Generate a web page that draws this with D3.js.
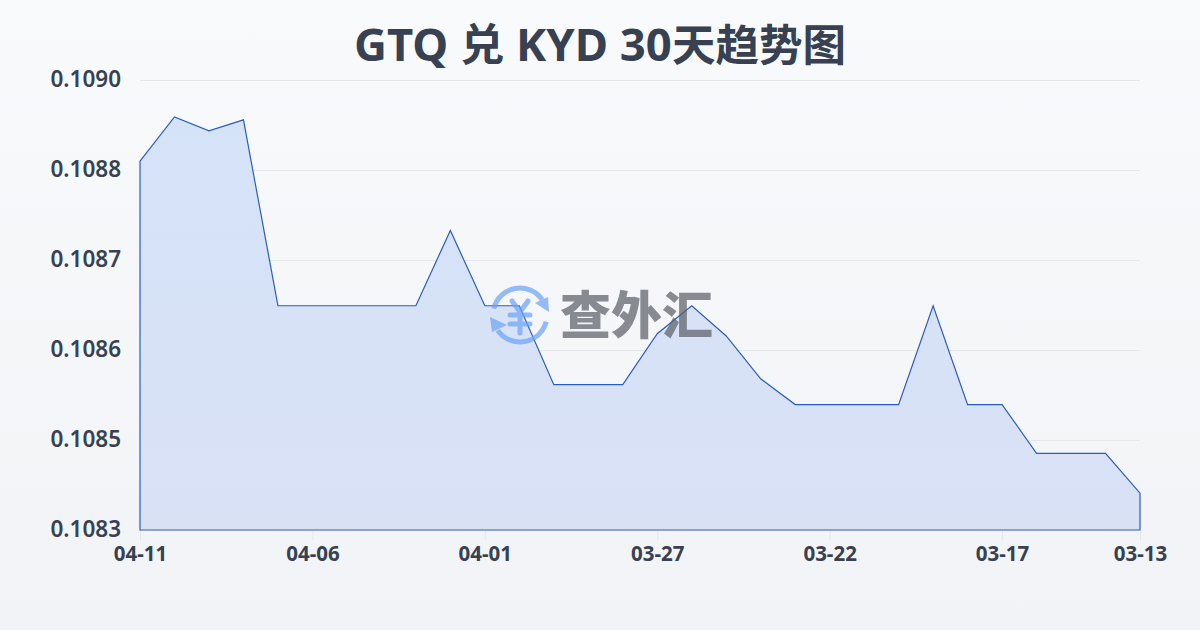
<!DOCTYPE html>
<html><head><meta charset="utf-8">
<script src="https://cdn.jsdelivr.net/npm/d3@7/dist/d3.min.js"></script>
<style>
html,body{margin:0;padding:0;width:1200px;height:630px;overflow:hidden}
text{font-family:"Noto Sans","Noto Sans CJK SC",sans-serif}
</style></head><body><svg id="c" width="1200" height="630"></svg>
<script>
const titleRuns = [["GTQ ",45.5],["兑",44],[" KYD 30",45.5],["天趋势图",43.5]];
const dates = ["04-11","04-10","04-09","04-08","04-07","04-06","04-05","04-04","04-03","04-02","04-01","03-31","03-30","03-29","03-28","03-27","03-26","03-25","03-24","03-23","03-22","03-21","03-20","03-19","03-18","03-17","03-16","03-15","03-14","03-13"];
const rates = [0.108840,0.108900,0.108881,0.108896,0.108644,0.108644,0.108644,0.108644,0.108644,0.108746,0.108644,0.108644,0.108537,0.108537,0.108537,0.108606,0.108644,0.108603,0.108545,0.108510,0.108510,0.108510,0.108510,0.108644,0.108510,0.108510,0.108444,0.108444,0.108444,0.108390];
const xTickLabels = ["04-11","04-06","04-01","03-27","03-22","03-17","03-13"];
const yTickValues = [0.10834,0.108462,0.108584,0.108706,0.108828,0.10895];
const yDomain = [0.10834,0.10895];
const watermark = "查外汇";

const svg = d3.select("#c");
const defs = svg.append("defs");
const bg = defs.append("linearGradient").attr("id","bg").attr("x1",0).attr("y1",0).attr("x2",0).attr("y2",1);
bg.append("stop").attr("offset",0).attr("stop-color","#f8fafc");
bg.append("stop").attr("offset",1).attr("stop-color","#f1f3f6");
const ag = defs.append("linearGradient").attr("id","ag").attr("x1",0).attr("y1",0).attr("x2",0).attr("y2",1);
ag.append("stop").attr("offset",0).attr("stop-color","#d5e3f8");
ag.append("stop").attr("offset",1).attr("stop-color","#d9e1f5");
svg.append("rect").attr("width",1200).attr("height",630).attr("fill","url(#bg)");

const t = svg.append("text").attr("x",600).attr("y",61).attr("text-anchor","middle")
  .attr("font-weight",700).attr("fill","#374151");
t.selectAll("tspan").data(titleRuns).join("tspan").attr("font-size",d=>d[1]).text(d=>d[0]);

const x = d3.scalePoint().domain(dates).range([140,1140]);
const y = d3.scaleLinear().domain(yDomain).range([530,80]);
const fmt = d3.format(".4f");

const gy = svg.append("g").attr("transform","translate(140,0)")
  .call(d3.axisLeft(y).tickValues(yTickValues).tickSize(-1000).tickFormat(fmt));
gy.select(".domain").remove();
gy.selectAll(".tick line").attr("stroke","#e5e7eb").attr("stroke-width",1);
gy.selectAll(".tick").filter(d=>d===yTickValues[0]).select("line").remove();
gy.selectAll(".tick text").attr("x",-19).attr("dy","0.27em").attr("font-size",22.5).attr("font-weight",600)
  .attr("fill","#374151").style("font-family",'"Noto Sans",sans-serif');

const gx = svg.append("g").attr("transform","translate(0,530)")
  .call(d3.axisBottom(x).tickValues(xTickLabels).tickSize(10).tickPadding(6));
gx.select(".domain").remove();
gx.selectAll(".tick line").attr("stroke","#e5e7eb").attr("stroke-width",1);
gx.selectAll(".tick text").attr("font-size",20.5).attr("font-weight",700).attr("fill","#374151")
  .style("font-family",'"Noto Sans",sans-serif');

const area = d3.area().x(d=>x(d.d)).y0(y.range()[0]).y1(d=>y(d.v));
const rows = dates.map((d,i)=>({d,v:rates[i]}));
svg.append("path").datum(rows).attr("d",area).attr("fill","url(#ag)")
  .attr("stroke","#2a5dbd").attr("stroke-width",1.2);

// watermark logo, laid over the chart
const wm = svg.append("g").attr("opacity",0.7);
const ic = wm.append("g").attr("transform","translate(520,315)")
  .attr("fill","none").attr("stroke","#6aa2f8").attr("stroke-width",5).attr("stroke-linecap","round");
const arc = d3.arc().innerRadius(27).outerRadius(27);
ic.append("path").attr("d",arc({startAngle:-1.33,endAngle:0.97}));
ic.append("path").attr("d",arc({startAngle:1.82,endAngle:4.11}));
ic.append("path").attr("d","M-8,-14L0,-3L8,-14M-10,0H10M-10,9H10M0,-3V18").attr("stroke-width",5);
ic.append("path").attr("d",d3.line()([[28,-18],[29,-3],[15,-12]])+"Z").attr("fill","#6aa2f8").attr("stroke","none");
ic.append("path").attr("d",d3.line()([[-30,2],[-28,17],[-13,10]])+"Z").attr("fill","#6aa2f8").attr("stroke","none");
wm.append("text").attr("x",560).attr("y",334).attr("font-size",51).attr("font-weight",900)
  .attr("fill","#5a5d66").style("font-family",'"Noto Sans CJK SC",sans-serif').text(watermark);
</script></body></html>
